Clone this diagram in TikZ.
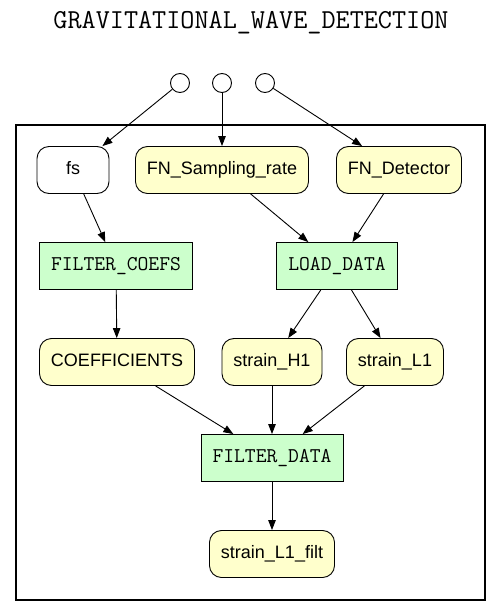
\documentclass[tikz,border=0pt]{standalone}
\usepackage{fontspec}
\setmainfont{Liberation Sans}
\usetikzlibrary{arrows.meta}
\definecolor{datafill}{HTML}{FFFFCC}
\definecolor{progfill}{HTML}{CCFFCC}

\begin{document}
\begin{tikzpicture}[x=1pt, y=-1pt,
        data/.style = {draw, rounded corners=12pt, fill=datafill, line width=0.9pt, minimum height=47pt, inner xsep=11.5pt, text height=13pt, text depth=4pt, font=\fontsize{18}{20}\selectfont},
        prog/.style = {draw, fill=progfill, line width=0.9pt, minimum height=47pt, inner xsep=11.5pt, text height=13pt, text depth=4pt, font=\ttfamily\fontsize{21}{22}\selectfont},
        port/.style = {draw, circle, line width=0.9pt, minimum size=19pt, inner sep=0pt},
        flow/.style = {-{Triangle[length=10pt, width=7.5pt]}, line width=0.9pt}]
        \useasboundingbox (0,0) rectangle (501,616);
        \fill[white] (0,0) rectangle (501,616);
        \node (title) at (251,23) {\ttfamily\fontsize{27.4}{28}\selectfont GRAVITATIONAL\_WAVE\_DETECTION};
        \draw[line width=2pt] (16,125) rectangle (485,600);
        % inputs
        \node[port] (src_fs) at (180,83) {};
        \node[port] (src_rate) at (222,83) {};
        \node[port] (src_det) at (265,83) {};
        \node[data, fill=white, minimum width=72pt] (fs) at (73,170) {fs};
        \node[data] (rate) at (222,170) {FN\_Sampling\_rate};
        \node[data] (det) at (399,170) {FN\_Detector};
        % programs and data
        \node[prog] (coefs) at (116,266) {FILTER\_COEFS};
        \node[prog] (load) at (337,266) {LOAD\_DATA};
        \node[data] (coeff) at (117,362) {COEFFICIENTS};
        \node[data] (h1) at (272,362) {strain\_H1};
        \node[data] (l1) at (395,362) {strain\_L1};
        \node[prog] (filt) at (272,458) {FILTER\_DATA};
        \node[data] (l1filt) at (272,554) {strain\_L1\_filt};
        % edges
        \draw[flow] (src_fs) -- (fs);
        \draw[flow] (src_rate) -- (rate);
        \draw[flow] (src_det) -- (det);
        \draw[flow] (fs) -- (coefs);
        \draw[flow] (rate) -- (load);
        \draw[flow] (det) -- (load);
        \draw[flow] (coefs) -- (coeff);
        \draw[flow] (load) -- (h1);
        \draw[flow] (load) -- (l1);
        \draw[flow] (coeff) -- (filt);
        \draw[flow] (h1) -- (filt);
        \draw[flow] (l1) -- (filt);
        \draw[flow] (filt) -- (l1filt);
\end{tikzpicture}
\end{document}
